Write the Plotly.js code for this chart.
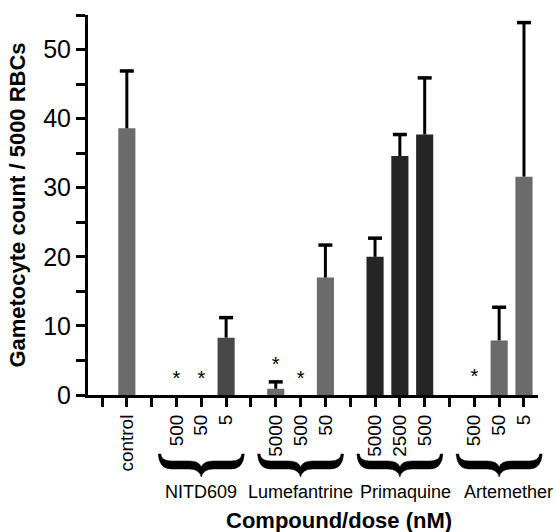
<!DOCTYPE html>
<html>
<head>
<meta charset="utf-8">
<script src="https://cdn.plot.ly/plotly-3.0.1.min.js"></script>
<style>html,body{margin:0;padding:0;background:#fff;}#chart{width:556px;height:532px;}</style>
</head>
<body>
<div id="chart"></div>
<script>
// ---- data ----
var tickLabels = ['', 'control', '', '500', '50', '5', '', '5000', '500', '50', '', '5000', '2500', '500', '', '500', '50', '5'];
var counts     = [null, 38.6, null, 0, 0, 8.3, null, 0.9, 0, 17.0, null, 20.0, 34.6, 37.7, null, 0, 7.9, 31.6];
var errPlus    = [null, 8.3, null, null, null, 2.9, null, 1.0, null, 4.7, null, 2.7, 3.1, 8.2, null, null, 4.8, 22.3];
var groupNames = ['NITD609', 'Lumefantrine', 'Primaquine', 'Artemether'];
var groupFirst = [3, 7, 11, 15];
var groupLast  = [5, 9, 13, 17];
var starIndex  = [3, 4, 7, 8, 15];
var starY      = [2.1, 2.1, 4.2, 2.1, 2.4];
var yTickVals  = [0, 5, 10, 15, 20, 25, 30, 35, 40, 45, 50, 55];
var yTickText  = ['0', '', '10', '', '20', '', '30', '', '40', '', '50', ''];

// ---- style ----
var FONT = '"Liberation Sans", Arial, sans-serif';
var controlColor = '#6b6b6b';
var groupColors = ['#484848', '#6b6b6b', '#252525', '#6b6b6b'];

var xIdx = tickLabels.map(function (_, i) { return i; });
var colors = xIdx.map(function (i) {
  for (var g = 0; g < groupFirst.length; g++) {
    if (i >= groupFirst[g] && i <= groupLast[g]) return groupColors[g];
  }
  return controlColor;
});

var xMin = -0.564, xMax = 17.565;
var W = 556, H = 532, mL = 88, mR = 18, mT = 15, mB = 137;
var plotW = W - mL - mR, plotH = H - mT - mB;
var yZeroPx = mT + plotH;

function paperX(idx, dxPx) { return (idx - xMin) / (xMax - xMin) + (dxPx || 0) / plotW; }
function paperY(py) { return (yZeroPx - py) / plotH; }

function bracePath(center) {
  var pts = [
    ['M', -43, 454],
    ['Q', -42, 469, -30, 469],
    ['L', -12, 469],
    ['Q', -2, 469, 0, 477],
    ['Q', 2, 469, 12, 469],
    ['L', 30, 469],
    ['Q', 42, 469, 43, 454],
    ['L', 40.5, 454],
    ['Q', 40, 461, 30, 461],
    ['L', 12, 461],
    ['Q', 2, 461, 0, 467],
    ['Q', -2, 461, -12, 461],
    ['L', -30, 461],
    ['Q', -40, 461, -40.5, 454]
  ];
  var s = '';
  pts.forEach(function (p) {
    s += p[0];
    for (var k = 1; k < p.length; k += 2) {
      s += (k > 1 ? ' ' : '') + paperX(center, p[k]).toFixed(5) + ',' + paperY(p[k + 1]).toFixed(5);
    }
    s += ' ';
  });
  return s + 'Z';
}

var bars = {
  type: 'bar',
  x: xIdx,
  y: counts,
  width: 0.69,
  marker: { color: colors, line: { width: 0 } },
  hoverinfo: 'skip',
  showlegend: false
};

// upward-only error bars: stems from bar top to top of error, with a cap
var stemX = [], stemY = [], capX = [], capY = [];
xIdx.forEach(function (i) {
  if (counts[i] === null || errPlus[i] === null) return;
  stemX.push(i, i, null);
  stemY.push(counts[i], counts[i] + errPlus[i], null);
  capX.push(i);
  capY.push(counts[i] + errPlus[i]);
});
var stems = {
  type: 'scatter', mode: 'lines', x: stemX, y: stemY,
  line: { color: '#000', width: 3 }, hoverinfo: 'skip', showlegend: false, cliponaxis: false
};
var caps = {
  type: 'scatter', mode: 'markers', x: capX, y: capY,
  marker: { symbol: 'line-ew', size: 10, line: { color: '#000', width: 3.5 } },
  hoverinfo: 'skip', showlegend: false, cliponaxis: false
};

var stars = {
  type: 'scatter', mode: 'text',
  x: starIndex, y: starY,
  text: starIndex.map(function () { return '*'; }),
  textposition: 'middle center',
  textfont: { family: FONT, size: 20, color: '#000' },
  hoverinfo: 'skip', showlegend: false, cliponaxis: false
};

var shapes = [], annotations = [];
var labelShift = [0, 0, 6, 9];
for (var g = 0; g < groupNames.length; g++) {
  var c = (groupFirst[g] + groupLast[g]) / 2;
  shapes.push({
    type: 'path', xref: 'paper', yref: 'paper', path: bracePath(c),
    fillcolor: '#000', line: { width: 0.5, color: '#000' }, layer: 'above'
  });
  annotations.push({
    xref: 'x', yref: 'paper', x: c, y: paperY(492), xshift: labelShift[g],
    text: groupNames[g], showarrow: false, xanchor: 'center', yanchor: 'middle',
    font: { family: FONT, size: 18, color: '#000' }
  });
}
annotations.push({
  xref: 'paper', yref: 'paper', x: (339 - mL) / plotW, y: paperY(520),
  text: '<b>Compound/dose (nM)</b>', showarrow: false, xanchor: 'center', yanchor: 'middle',
  font: { family: FONT, size: 22, color: '#000' }
});

var layout = {
  width: W, height: H,
  margin: { l: mL, r: mR, t: mT, b: mB, pad: 0 },
  paper_bgcolor: '#fff', plot_bgcolor: '#fff',
  font: { family: FONT, color: '#000' },
  showlegend: false,
  xaxis: {
    range: [xMin, xMax],
    tickmode: 'array', tickvals: xIdx, ticktext: tickLabels,
    tickangle: -90,
    tickfont: { family: FONT, size: 19, color: '#000' },
    ticks: 'outside', ticklen: 9, tickwidth: 3, tickcolor: '#000',
    showline: true, linewidth: 3, linecolor: '#000',
    showgrid: false, zeroline: false, fixedrange: true
  },
  yaxis: {
    range: [0, 55],
    tickmode: 'array', tickvals: yTickVals, ticktext: yTickText,
    tickfont: { family: FONT, size: 25, color: '#000' },
    ticks: 'outside', ticklen: 9, tickwidth: 3, tickcolor: '#000',
    showline: true, linewidth: 3, linecolor: '#000',
    showgrid: false, zeroline: false, fixedrange: true,
    title: { text: '<b>Gametocyte count / 5000 RBCs</b>', font: { family: FONT, size: 22, color: '#000' }, standoff: 12 }
  },
  shapes: shapes,
  annotations: annotations
};

Plotly.newPlot('chart', [bars, stems, caps, stars], layout, { displayModeBar: false, staticPlot: true });
</script>
</body>
</html>
